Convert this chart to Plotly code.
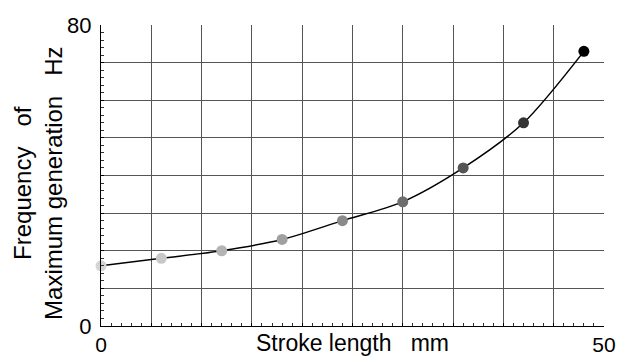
import plotly.graph_objects as go

# Data
stroke_mm = [0, 6, 12, 18, 24, 30, 36, 42, 48]
freq_hz = [16, 18, 20, 23, 28, 33, 42, 54, 73]
marker_colors = ["#d4d4d4", "#c8c8c8", "#b4b4b4", "#a0a0a0", "#8a8a8a",
                 "#6e6e6e", "#545454", "#333333", "#000000"]
x_tickvals = list(range(0, 51, 5))
x_ticktext = ["0"] + [""] * 9 + ["50"]
y_tickvals = list(range(0, 81, 10))
y_ticktext = ["0"] + [""] * 7 + ["80"]

FONT = "Liberation Sans, Arial, sans-serif"
NB = "\u00a0"

fig = go.Figure()
fig.add_trace(go.Scatter(
    x=stroke_mm, y=freq_hz, mode="lines+markers",
    line=dict(color="black", width=1.5, shape="spline", smoothing=0.8),
    marker=dict(size=11, color=marker_colors, line=dict(width=0)),
    cliponaxis=False, showlegend=False,
))

fig.update_layout(
    width=633, height=358,
    margin=dict(l=101, r=29, t=25, b=32, autoexpand=False),
    paper_bgcolor="white", plot_bgcolor="white",
    font=dict(family=FONT, color="black", size=21),
    xaxis=dict(
        range=[0, 50], tickvals=x_tickvals, ticktext=x_ticktext,
        showgrid=True, gridcolor="#555555", gridwidth=1,
        zeroline=False, showline=True, linecolor="black", linewidth=1,
        ticks="inside", ticklen=3, tickcolor="black",
        minor=dict(dtick=1, ticks="inside", ticklen=3, tickcolor="#333", showgrid=False),
        tickfont=dict(size=21), automargin=False, ticklabelstandoff=0,
    ),
    yaxis=dict(
        range=[0, 80], tickvals=y_tickvals, ticktext=y_ticktext,
        showgrid=True, gridcolor="#555555", gridwidth=1,
        zeroline=False, showline=True, linecolor="black", linewidth=1,
        ticks="inside", ticklen=3, tickcolor="black",
        minor=dict(dtick=2, ticks="inside", ticklen=3, tickcolor="#333", showgrid=False),
        tickfont=dict(size=22), automargin=False, ticklabelstandoff=4,
    ),
    annotations=[
        dict(text="Stroke length" + NB * 3 + "mm", xref="paper", yref="paper",
             x=0.5, y=-0.058, xanchor="center", yanchor="middle",
             showarrow=False, font=dict(size=23, family=FONT)),
        dict(text="Frequency" + NB * 3 + "of<br>Maximum generation" + NB * 3 + "Hz",
             xref="paper", yref="paper", x=0, y=0.472, xshift=-63,
             xanchor="center", yanchor="middle", textangle=-90,
             showarrow=False, font=dict(size=24, family=FONT)),
    ],
)

fig.write_html("out.html")
